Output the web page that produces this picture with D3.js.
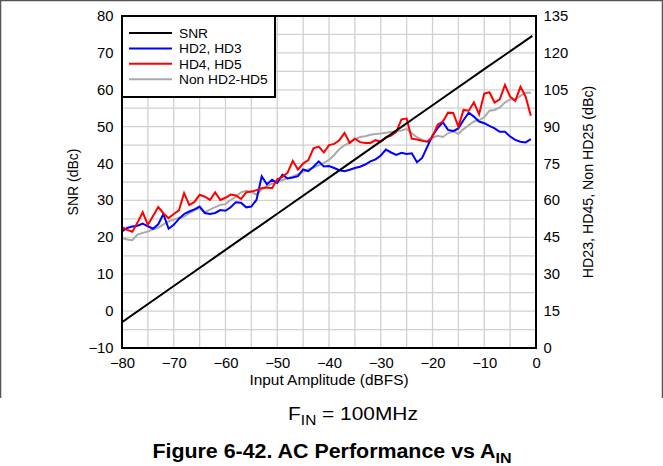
<!DOCTYPE html>
<html><head><meta charset="utf-8">
<script src="https://cdn.jsdelivr.net/npm/d3@7/dist/d3.min.js"></script>
<style>
body{margin:0;background:#fff;}
svg{display:block;font-family:"Liberation Sans",Arial,sans-serif;}
</style></head>
<body><svg id="c" width="663" height="466"></svg>
<script>
// Input amplitude (dBFS) for the harmonic series
const ain = d3.range(-80, 0); // -80 .. -1
// SNR (dBc, left axis)
const snrX = [-80, -70, -60, -50, -40, -30, -20, -10, -0.7];
const snrY = [-3.0, 6.8, 16.6, 26.4, 36.2, 46.0, 55.8, 65.6, 74.6];
// HD2, HD3 (dBc, right axis)
const hd23 = [47.4,48.8,49.4,49.7,50.6,49.5,48.5,50.3,54.5,48.5,50.1,52.5,54.5,55.5,56.4,57.5,54.9,54.5,54.9,56.1,
  55.8,57.2,59.3,59.1,57.2,57.5,60.3,69.8,66.6,68.4,67.1,70.5,68.9,69.3,69.9,72.6,71.9,73.7,75.9,73.8,
  74.0,73.2,72.3,71.9,72.5,73.2,73.7,74.6,75.9,76.7,78.3,80.7,79.5,78.5,79.4,78.9,79.2,75.5,77.3,81.9,
  86.4,89.4,91.8,88.7,88.2,89.3,92.7,95.7,94.1,92.1,91.4,90.3,89.3,87.9,87.9,86.0,84.6,83.9,83.6,84.9];
// HD4, HD5 (dBc, right axis)
const hd45 = [49.2,48.0,47.3,51.0,55.2,50.1,53.7,57.3,54.8,52.8,54.5,56.0,63.0,58.1,59.4,62.3,61.5,60.2,63.3,60.2,
  61.1,62.4,62.0,60.6,63.3,63.6,64.2,65.0,65.3,65.0,68.6,69.6,71.3,76.1,72.6,75.0,76.4,81.2,81.9,79.5,
  82.5,83.0,84.5,87.5,83.4,85.1,83.7,83.4,83.4,84.5,83.9,85.7,86.4,87.9,93.0,93.3,85.1,84.8,84.3,83.9,
  85.8,90.8,92.1,95.7,95.6,90.0,96.8,96.5,99.9,95.1,103.5,104.0,99.8,101.1,107.0,102.2,100.5,106.2,102.2,94.4];
// Non HD2-HD5 (dBc, right axis)
const nonHd = [44.7,44.1,43.8,46.1,46.8,47.4,48.3,48.9,50.3,51.5,52.2,53.0,53.4,54.8,56.0,56.9,55.2,56.3,57.3,58.2,
  58.5,60.2,61.5,63.3,63.9,63.5,62.3,64.5,65.9,66.8,67.5,68.3,69.0,69.8,70.7,71.6,72.6,73.4,74.3,75.3,
  76.5,78.5,80.9,82.4,83.6,84.9,85.8,86.1,86.7,87.0,87.2,87.5,87.8,88.1,88.4,89.1,87.3,85.7,84.6,83.9,
  85.5,86.3,85.8,87.3,88.2,87.0,89.0,90.6,92.1,92.7,93.8,96.5,96.8,97.8,99.8,101.1,101.1,102.5,103.8,103.8];
const xTicks = [-80,-70,-60,-50,-40,-30,-20,-10,0];
const yLeftTicks = [-10,0,10,20,30,40,50,60,70,80];
const yRightTicks = [0,15,30,45,60,75,90,105,120,135];
const legendNames = ["SNR","HD2, HD3","HD4, HD5","Non HD2-HD5"];
const colors = ["#000000","#0000ff","#ff0000","#aaaaaa"];

const L = 122, R = 536, T = 16, B = 348;
const svg = d3.select("#c");
const x = d3.scaleLinear().domain([-80,0]).range([L,R]);
const yL = d3.scaleLinear().domain([-10,80]).range([B,T]);
const yR = d3.scaleLinear().domain([0,135]).range([B,T]);

// outer frame
svg.append("path").attr("d",`M0.5,398 V0.5 H662.5 V398`).attr("fill","none").attr("stroke","#555").attr("stroke-width",1.5);

// grid
const g = svg.append("g");
g.selectAll("line.vx").data(d3.range(-75,0,5)).join("line")
 .attr("x1",d=>x(d)).attr("x2",d=>x(d)).attr("y1",T).attr("y2",B)
 .attr("stroke","#d0d0d0").attr("stroke-width",1.3);
g.selectAll("line.hy").data(d3.range(-5,80,5)).join("line")
 .attr("x1",L).attr("x2",R).attr("y1",d=>yL(d)).attr("y2",d=>yL(d))
 .attr("stroke","#d0d0d0").attr("stroke-width",1.3);

// axes
const fs = "14px";
const xa = svg.append("g").attr("transform",`translate(0,${B})`)
  .call(d3.axisBottom(x).tickValues(xTicks).tickSize(0).tickPadding(10));
const ya = svg.append("g").attr("transform",`translate(${L},0)`)
  .call(d3.axisLeft(yL).tickValues(yLeftTicks).tickSize(0).tickPadding(8));
const yra = svg.append("g").attr("transform",`translate(${R},0)`)
  .call(d3.axisRight(yR).tickValues(yRightTicks).tickSize(0).tickPadding(7));
[xa,ya,yra].forEach(a=>{a.select(".domain").remove();a.selectAll("text").attr("font-size",fs).attr("fill","#000")
  .attr("font-family","Liberation Sans, Arial, sans-serif").attr("transform","scale(1.06,1)");});

// lines
const lineR = d3.line().x((d,i)=>x(ain[i])).y(d=>yR(d));
svg.append("clipPath").attr("id","clp").append("rect").attr("x",L).attr("y",T).attr("width",R-L).attr("height",B-T);
const pl = svg.append("g").attr("clip-path","url(#clp)");
pl.append("path").datum(nonHd).attr("d",lineR).attr("fill","none").attr("stroke",colors[3]).attr("stroke-width",2);
pl.append("path").datum(hd23).attr("d",lineR).attr("fill","none").attr("stroke",colors[1]).attr("stroke-width",2);
pl.append("path").datum(hd45).attr("d",lineR).attr("fill","none").attr("stroke",colors[2]).attr("stroke-width",2);
pl.append("path").datum(snrY).attr("d",d3.line().x((d,i)=>x(snrX[i])).y(d=>yL(d)))
  .attr("fill","none").attr("stroke",colors[0]).attr("stroke-width",2);

// plot frame
svg.append("rect").attr("x",L).attr("y",T).attr("width",R-L).attr("height",B-T)
  .attr("fill","none").attr("stroke","#000").attr("stroke-width",2);

// legend
const lg = svg.append("g");
lg.append("rect").attr("x",L).attr("y",T).attr("width",153).attr("height",81)
  .attr("fill","#fff").attr("stroke","#000").attr("stroke-width",2);
legendNames.forEach((n,i)=>{
  const yy = 33 + i*15.4;
  lg.append("line").attr("x1",129).attr("x2",172).attr("y1",yy).attr("y2",yy)
    .attr("stroke",colors[i]).attr("stroke-width",2);
  lg.append("text").attr("transform",`translate(179,${yy+5}) scale(1.02,1)`).attr("font-size","13.5px").text(n);
});

// axis titles
svg.append("text").attr("transform",`translate(${(L+R)/2},385) scale(1.1,1)`).attr("text-anchor","middle")
  .attr("font-size","14px").text("Input Amplitude (dBFS)");
svg.append("text").attr("transform",`translate(78,${(T+B)/2}) rotate(-90)`).attr("text-anchor","middle")
  .attr("font-size","14px").text("SNR (dBc)");
svg.append("text").attr("transform",`translate(593,${(T+B)/2}) rotate(-90)`).attr("text-anchor","middle")
  .attr("font-size","14.2px").text("HD23, HD45, Non HD25 (dBc)");

// condition text
const ft = svg.append("text").attr("transform","translate(353,420) scale(1.1,1)").attr("text-anchor","middle").attr("font-size","19px");
ft.append("tspan").text("F");
ft.append("tspan").attr("font-size","14px").attr("dy",5).text("IN");
ft.append("tspan").attr("dy",-5).text(" = 100MHz");

// caption
const cap = svg.append("text").attr("transform","translate(332,458) scale(1.07,1)").attr("text-anchor","middle")
  .attr("font-size","20px").attr("font-weight","bold");
cap.append("tspan").text("Figure 6-42. AC Performance vs A");
cap.append("tspan").attr("font-size","15px").attr("dy",5).text("IN");
</script></body></html>
